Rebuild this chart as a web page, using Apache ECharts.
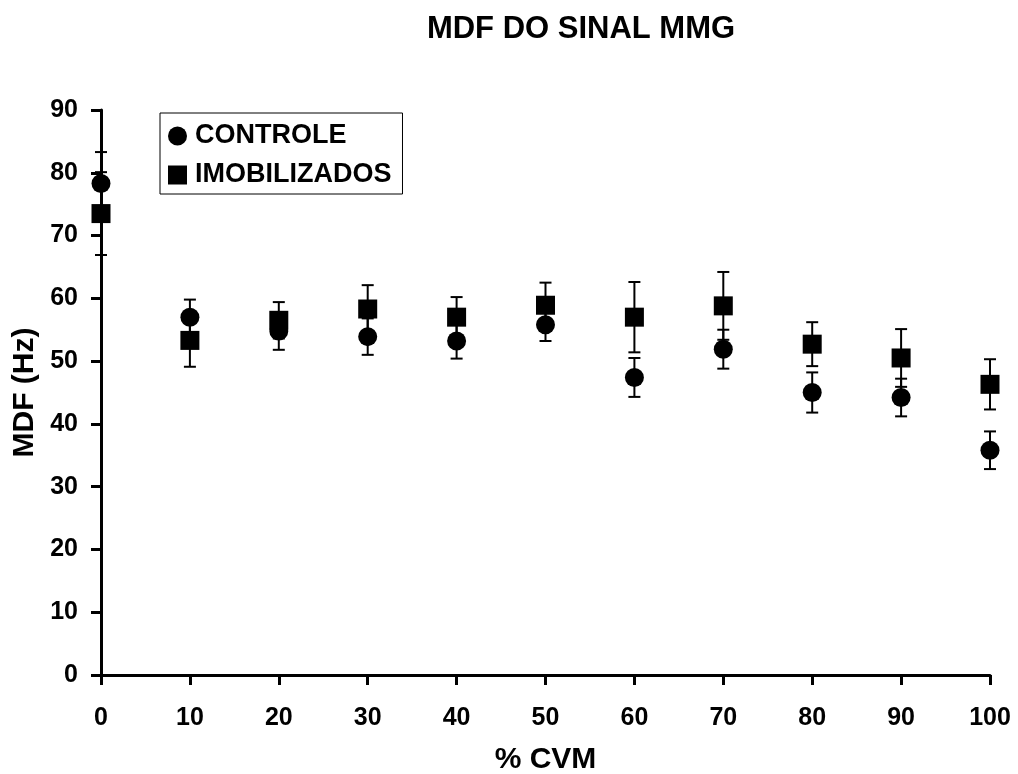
<!DOCTYPE html>
<html><head><meta charset="utf-8">
<script src="https://cdn.jsdelivr.net/npm/echarts@6/dist/echarts.min.js"></script>
<style>html,body{margin:0;padding:0;background:#fff}#c{width:1018px;height:774px}</style>
</head><body><div id="c"></div>
<script>
const xValues = [0, 10, 20, 30, 40, 50, 60, 70, 80, 90, 100];
const controleMean = [78.3, 57.0, 54.8, 53.9, 53.2, 55.8, 47.4, 51.9, 45.0, 44.2, 35.8];
const controleErr  = [5.0, 2.8, 3.0, 2.9, 2.8, 2.6, 3.1, 3.1, 3.2, 3.0, 3.0];
const imobMean = [73.5, 53.3, 56.5, 58.3, 57.0, 58.9, 57.0, 58.8, 52.7, 50.5, 46.3];
const imobErr  = [6.6, 4.2, 2.9, 3.8, 3.2, 3.6, 5.6, 5.4, 3.5, 4.6, 4.0];
const xTicks = [0, 10, 20, 30, 40, 50, 60, 70, 80, 90, 100];
const yTicks = [0, 10, 20, 30, 40, 50, 60, 70, 80, 90];

const FONT = 'Liberation Sans, Arial, sans-serif';
function errData(mean, err) { return xValues.map((x, i) => [x, mean[i] - err[i], mean[i] + err[i]]); }
function errRender(params, api) {
  const x = api.value(0);
  const lo = api.coord([x, api.value(1)]);
  const hi = api.coord([x, api.value(2)]);
  const w = 6;
  const st = { stroke: '#000', lineWidth: 2 };
  return { type: 'group', children: [
    { type: 'line', shape: { x1: lo[0], y1: lo[1], x2: hi[0], y2: hi[1] }, style: st },
    { type: 'line', shape: { x1: lo[0] - w, y1: lo[1], x2: lo[0] + w, y2: lo[1] }, style: st },
    { type: 'line', shape: { x1: hi[0] - w, y1: hi[1], x2: hi[0] + w, y2: hi[1] }, style: st }
  ]};
}

const chart = echarts.init(document.getElementById('c'), null, { renderer: 'canvas' });
chart.setOption({
  backgroundColor: '#fff',
  animation: false,
  title: { text: 'MDF DO SINAL MMG', left: 576, top: 9, textAlign: 'center',
    textStyle: { fontFamily: FONT, fontWeight: 'bold', fontSize: 31, color: '#000' } },
  grid: { left: 101, right: 28, top: 110, bottom: 99, containLabel: false, outerBoundsMode: 'none' },
  legend: {
    orient: 'vertical', left: 160, top: 113, itemGap: 9,
    padding: [8, 11, 4, 8], borderColor: '#000', borderWidth: 1,
    itemWidth: 19, itemHeight: 19,
    textStyle: { fontFamily: FONT, fontWeight: 'bold', fontSize: 27, lineHeight: 30, color: '#000', padding: [0, 0, 0, 3] },
    data: [{ name: 'CONTROLE', icon: 'circle' }, { name: 'IMOBILIZADOS', icon: 'rect' }]
  },
  xAxis: {
    type: 'value', min: 0, max: 100, interval: 10,
    name: '% CVM', nameLocation: 'middle', nameGap: 70,
    nameTextStyle: { fontFamily: FONT, fontWeight: 'bold', fontSize: 30, color: '#000' },
    axisLine: { show: true, onZero: false, lineStyle: { color: '#000', width: 3 } },
    axisTick: { show: true, inside: false, length: 10, lineStyle: { color: '#000', width: 3 } },
    axisLabel: { margin: 31, fontFamily: FONT, fontWeight: 'bold', fontSize: 25, color: '#000',
      formatter: v => xTicks.includes(v) ? String(v) : '' },
    splitLine: { show: false }
  },
  yAxis: {
    type: 'value', min: 0, max: 90, interval: 10,
    name: 'MDF (Hz)', nameLocation: 'middle', nameGap: 56, nameRotate: 90,
    nameTextStyle: { fontFamily: FONT, fontWeight: 'bold', fontSize: 30, color: '#000' },
    axisLine: { show: true, onZero: false, lineStyle: { color: '#000', width: 3 } },
    axisTick: { show: true, inside: false, length: 10, lineStyle: { color: '#000', width: 3 } },
    axisLabel: { margin: 23, fontFamily: FONT, fontWeight: 'bold', fontSize: 25, color: '#000',
      formatter: v => yTicks.includes(v) ? String(v) : '' },
    splitLine: { show: false }
  },
  series: [
    { name: 'errC', type: 'custom', renderItem: errRender, data: errData(controleMean, controleErr), encode: { x: 0, y: [1, 2] }, z: 2, silent: true },
    { name: 'errI', type: 'custom', renderItem: errRender, data: errData(imobMean, imobErr), encode: { x: 0, y: [1, 2] }, z: 2, silent: true },
    { name: 'CONTROLE', type: 'scatter', symbol: 'circle', symbolSize: 19,
      itemStyle: { color: '#000', opacity: 1 }, data: xValues.map((x, i) => [x, controleMean[i]]), z: 3 },
    { name: 'IMOBILIZADOS', type: 'scatter', symbol: 'rect', symbolSize: 19,
      itemStyle: { color: '#000', opacity: 1 }, data: xValues.map((x, i) => [x, imobMean[i]]), z: 4 }
  ]
});
</script></body></html>
